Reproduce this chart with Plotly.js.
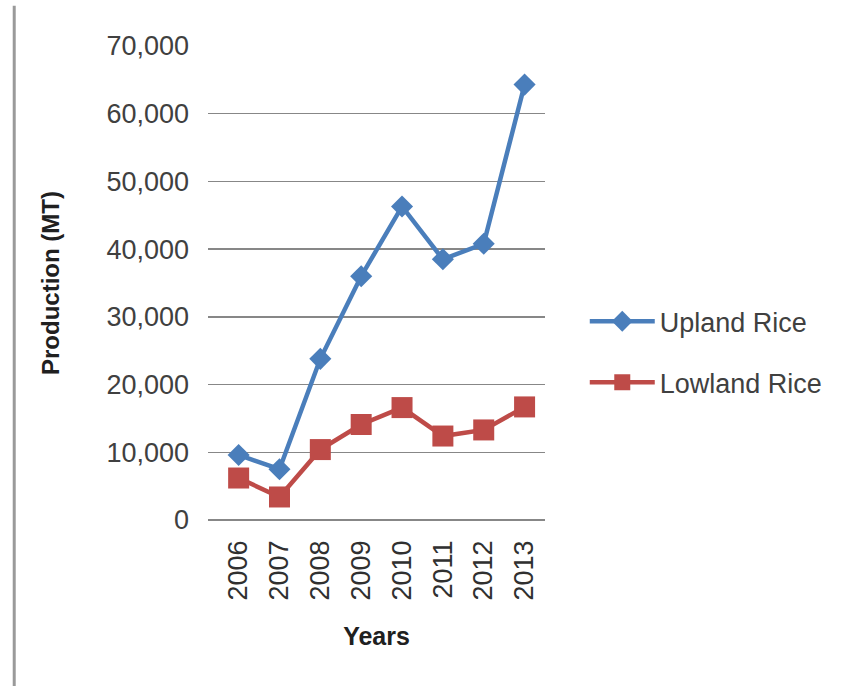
<!DOCTYPE html>
<html>
<head>
<meta charset="utf-8">
<script src="https://cdn.plot.ly/plotly-3.0.1.min.js"></script>
<style>
html,body{margin:0;padding:0;background:#fff;}
#chart{width:843px;height:690px;}
</style>
</head>
<body>
<div id="chart"></div>
<script>
var years = ["2006","2007","2008","2009","2010","2011","2012","2013"];
var uplandRice = [9600, 7500, 23800, 36000, 46300, 38500, 40800, 64300];
var lowlandRice = [6200, 3400, 10400, 14100, 16600, 12400, 13300, 16700];
var yTickVals = [0, 10000, 20000, 30000, 40000, 50000, 60000, 70000];
var yTickText = ["0", "10,000", "20,000", "30,000", "40,000", "50,000", "60,000", "70,000"];

var fontFam = '"Liberation Sans", Arial, sans-serif';

var traces = [
  {
    x: years, y: uplandRice, name: "Upland Rice", type: "scatter", mode: "lines+markers",
    legendgroup: "a",
    line: {color: "#4a7ebb", width: 4.5},
    marker: {symbol: "diamond", size: 17, color: "#4a7ebb"}
  },
  {
    x: years, y: lowlandRice, name: "Lowland Rice", type: "scatter", mode: "lines+markers",
    legendgroup: "b",
    line: {color: "#be4b48", width: 4.5},
    marker: {symbol: "square", size: 21, color: "#be4b48"}
  }
];

var layout = {
  width: 843, height: 690,
  margin: {l: 208, r: 298, t: 46, b: 170},
  paper_bgcolor: "#ffffff", plot_bgcolor: "#ffffff",
  font: {family: fontFam, size: 27, color: "#404040"},
  showlegend: true,
  legend: {
    x: 1.118, y: 0.354, xanchor: "left", yanchor: "middle",
    font: {family: fontFam, size: 27, color: "#404040"},
    tracegroupgap: 23, itemwidth: 65
  },
  xaxis: {
    type: "category",
    range: [-0.75, 7.5],
    tickangle: -90,
    tickfont: {family: fontFam, size: 27, color: "#303030"},
    showgrid: false, zeroline: false, showline: false,
    ticks: "", ticklen: 0,
    ticklabelstandoff: 14,
    title: {text: "<b>Years</b>", font: {family: fontFam, size: 25, color: "#202020"}, standoff: 28}
  },
  yaxis: {
    range: [0, 70000],
    tickvals: yTickVals, ticktext: yTickText,
    tickfont: {family: fontFam, size: 27, color: "#404040"},
    showgrid: true, gridcolor: "#878787", gridwidth: 1.5,
    zeroline: true, zerolinecolor: "#878787", zerolinewidth: 1.5,
    showline: false, ticks: "",
    ticklabelstandoff: 18,
    title: {text: "<b>Production (MT)</b>", font: {family: fontFam, size: 24, color: "#202020"}, standoff: 40}
  },
  shapes: [
    {type: "line", xref: "paper", yref: "paper",
     x0: -0.575, x1: -0.575, y0: 1.085, y1: -0.35,
     line: {color: "#9a9a9a", width: 3}},
    {type: "line", xref: "paper", yref: "paper",
     x0: 0, x1: 1, y0: 1, y1: 1,
     line: {color: "#ffffff", width: 3}}
  ]
};

Plotly.newPlot("chart", traces, layout, {displayModeBar: false, staticPlot: true});
</script>
</body>
</html>
